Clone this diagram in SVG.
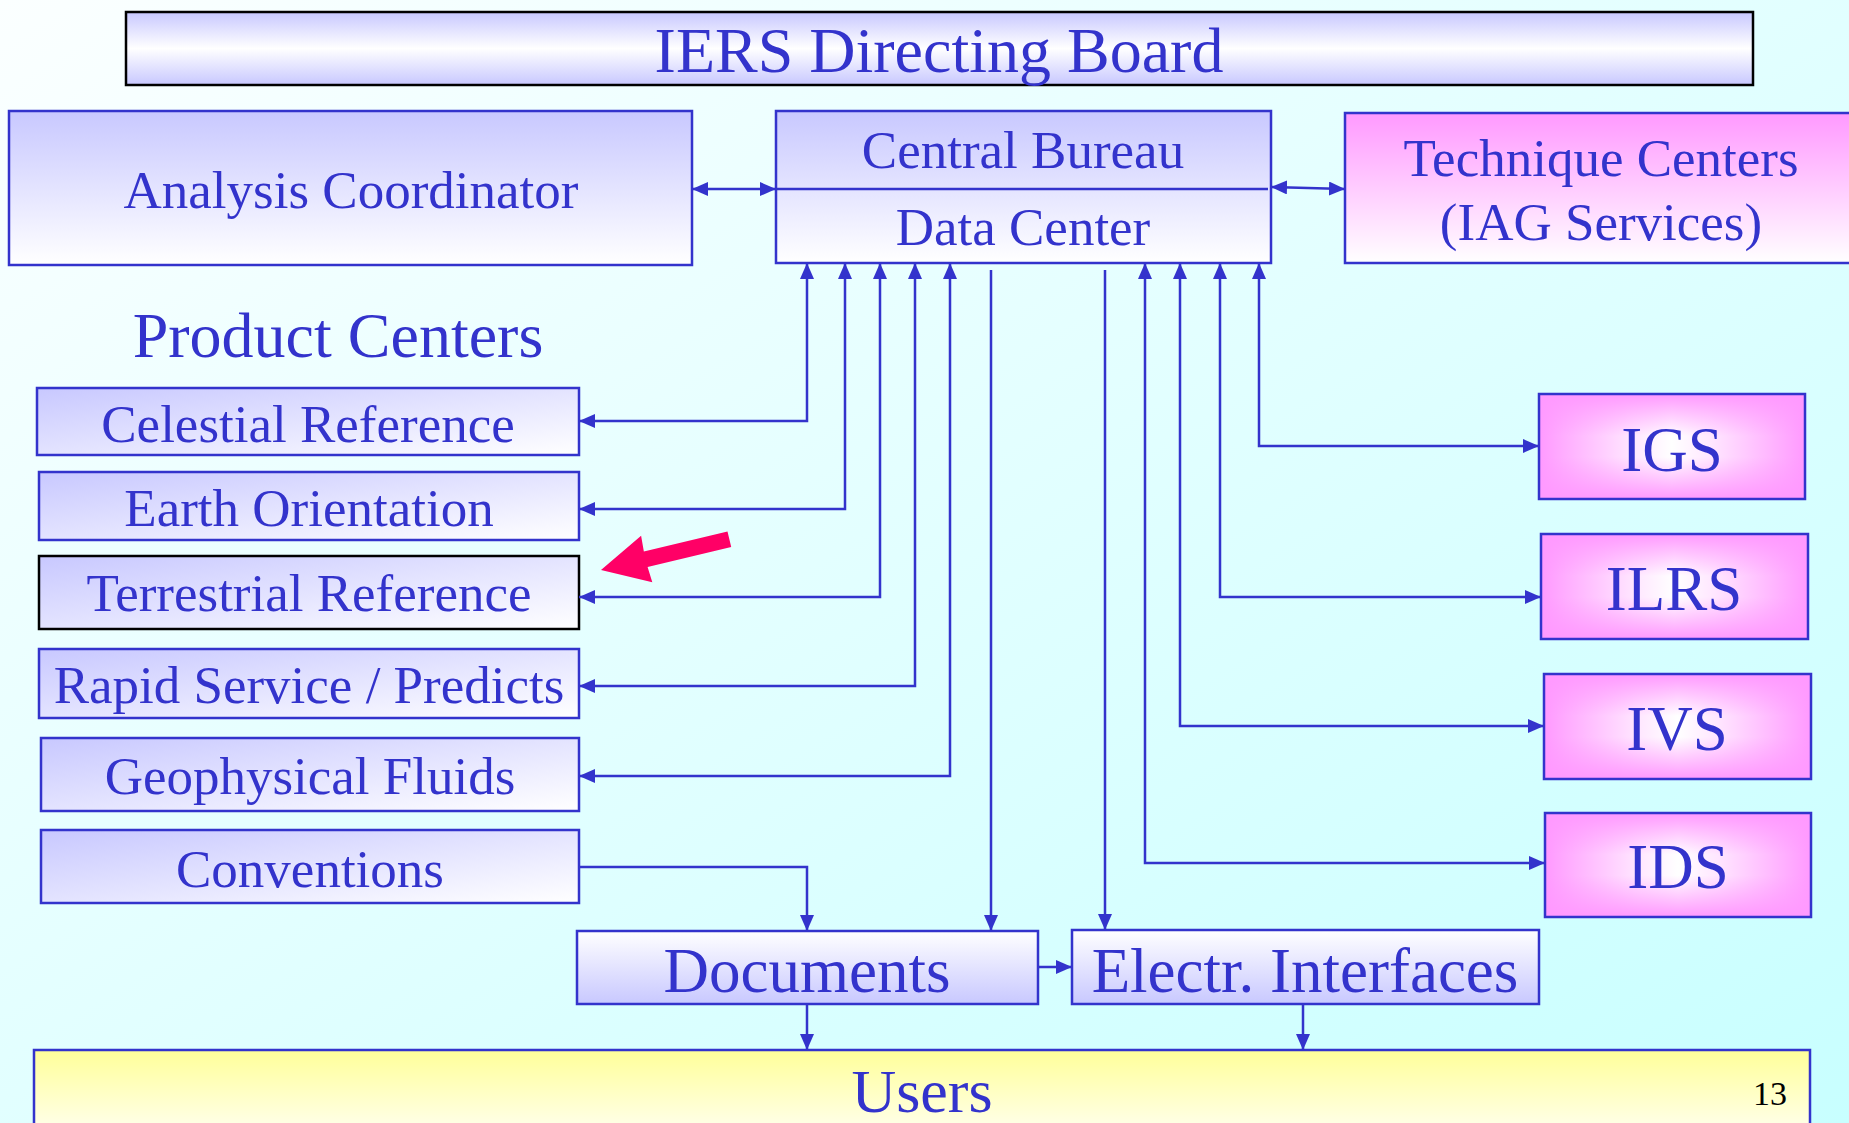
<svg xmlns="http://www.w3.org/2000/svg" width="1849" height="1123" viewBox="0 0 1849 1123">
<defs>
<linearGradient id="bg" x1="0" y1="0" x2="1" y2="1"><stop offset="0" stop-color="#fbffff"/><stop offset="1" stop-color="#c8ffff"/></linearGradient>
<linearGradient id="lavV" x1="0" y1="0" x2="0" y2="1"><stop offset="0" stop-color="#c8c8ff"/><stop offset="1" stop-color="#ffffff"/></linearGradient>
<linearGradient id="lavD" x1="0" y1="0" x2="1" y2="1"><stop offset="0" stop-color="#c8c8ff"/><stop offset="1" stop-color="#ffffff"/></linearGradient>
<linearGradient id="lavUp" x1="0" y1="0" x2="0" y2="1"><stop offset="0" stop-color="#ffffff"/><stop offset="1" stop-color="#c8c8ff"/></linearGradient>
<linearGradient id="lavMid" x1="0" y1="0" x2="0" y2="1"><stop offset="0" stop-color="#c8c8ff"/><stop offset="0.5" stop-color="#ffffff"/><stop offset="1" stop-color="#c8c8ff"/></linearGradient>
<linearGradient id="pinkV" x1="0" y1="0" x2="0" y2="1"><stop offset="0" stop-color="#ff99ff"/><stop offset="1" stop-color="#ffffff"/></linearGradient>
<linearGradient id="pinkH" x1="0" y1="0" x2="1" y2="0"><stop offset="0" stop-color="#ff99ff"/><stop offset="0.35" stop-color="#ffe6ff"/><stop offset="0.5" stop-color="#ffffff"/><stop offset="0.65" stop-color="#ffe6ff"/><stop offset="1" stop-color="#ff99ff"/></linearGradient>
<linearGradient id="pinkVm" x1="0" y1="0" x2="0" y2="1"><stop offset="0" stop-color="#ff99ff" stop-opacity="1"/><stop offset="0.4" stop-color="#ff99ff" stop-opacity="0"/><stop offset="0.6" stop-color="#ff99ff" stop-opacity="0"/><stop offset="1" stop-color="#ff99ff" stop-opacity="1"/></linearGradient>
<linearGradient id="yel" x1="0" y1="0" x2="0" y2="1"><stop offset="0" stop-color="#ffff99"/><stop offset="1" stop-color="#ffffff"/></linearGradient>
<marker id="ah" viewBox="0 0 16 14" refX="16" refY="7" markerWidth="16" markerHeight="14" markerUnits="userSpaceOnUse" orient="auto-start-reverse"><path d="M0,0 L16,7 L0,14 z" fill="#3333cc"/></marker>
</defs>
<style>
.box{stroke:#3333cc;stroke-width:2.5}
.blk{stroke:#000000;stroke-width:2.5}
.t{font-family:"Liberation Serif","Times New Roman",serif;fill:#3333cc;text-anchor:middle}
.m{font-size:53px}
.b{font-size:63px}
.c{fill:none;stroke:#3333cc;stroke-width:2.5}
.a2{marker-start:url(#ah);marker-end:url(#ah)}
.a1{marker-end:url(#ah)}
</style>
<rect x="0" y="0" width="1849" height="1123" fill="url(#bg)"/>

<g id="directing-board">
<rect x="126" y="12" width="1627" height="73" fill="url(#lavMid)" class="blk"/>
<text x="939" y="72" class="t" font-size="64">IERS Directing Board</text>
</g>
<g id="analysis-coordinator">
<rect x="9" y="111" width="683" height="154" fill="url(#lavV)" class="box"/>
<text x="351" y="208" class="t m">Analysis Coordinator</text>
</g>
<g id="central-bureau">
<rect x="776" y="111" width="495" height="152" fill="url(#lavV)" class="box"/>
<line x1="776" y1="189" x2="1268" y2="189" class="c"/>
<text x="1023" y="168" class="t m">Central Bureau</text>
<text x="1023" y="245" class="t m">Data Center</text>
</g>
<g id="technique-centers">
<rect x="1345" y="113" width="510" height="150" fill="url(#pinkV)" class="box"/>
<text x="1601" y="176" class="t m">Technique Centers</text>
<text x="1601" y="240" class="t m">(IAG Services)</text>
</g>
<g id="product-centers-label">
<text x="338" y="357" class="t" font-size="64">Product Centers</text>
</g>
<g id="celestial">
<rect x="37" y="388" width="542" height="67" fill="url(#lavD)" class="box"/>
<text x="308" y="442" class="t m">Celestial Reference</text>
</g>
<g id="earth-orientation">
<rect x="39" y="472" width="540" height="68" fill="url(#lavD)" class="box"/>
<text x="309" y="526" class="t m">Earth Orientation</text>
</g>
<g id="terrestrial">
<rect x="39" y="556" width="540" height="73" fill="url(#lavD)" class="blk"/>
<text x="309" y="611" class="t m">Terrestrial Reference</text>
</g>
<g id="rapid-service">
<rect x="39" y="649" width="540" height="69" fill="url(#lavD)" class="box"/>
<text x="309" y="703" class="t m">Rapid Service / Predicts</text>
</g>
<g id="geophysical">
<rect x="41" y="738" width="538" height="73" fill="url(#lavD)" class="box"/>
<text x="310" y="794" class="t m">Geophysical Fluids</text>
</g>
<g id="conventions">
<rect x="41" y="830" width="538" height="73" fill="url(#lavD)" class="box"/>
<text x="310" y="887" class="t m">Conventions</text>
</g>
<g id="igs">
<rect x="1539" y="394" width="266" height="105" fill="url(#pinkH)"/>
<rect x="1539" y="394" width="266" height="105" fill="url(#pinkVm)" class="box"/>
<text x="1672" y="471" class="t b" font-size="62">IGS</text>
</g>
<g id="ilrs">
<rect x="1541" y="534" width="267" height="105" fill="url(#pinkH)"/>
<rect x="1541" y="534" width="267" height="105" fill="url(#pinkVm)" class="box"/>
<text x="1674" y="610" class="t b">ILRS</text>
</g>
<g id="ivs">
<rect x="1544" y="674" width="267" height="105" fill="url(#pinkH)"/>
<rect x="1544" y="674" width="267" height="105" fill="url(#pinkVm)" class="box"/>
<text x="1677" y="750" class="t b">IVS</text>
</g>
<g id="ids">
<rect x="1545" y="813" width="266" height="104" fill="url(#pinkH)"/>
<rect x="1545" y="813" width="266" height="104" fill="url(#pinkVm)" class="box"/>
<text x="1678" y="888" class="t b">IDS</text>
</g>
<g id="documents">
<rect x="577" y="931" width="461" height="73" fill="url(#lavUp)" class="box"/>
<text x="807" y="992" class="t b">Documents</text>
</g>
<g id="electr-interfaces">
<rect x="1072" y="930" width="467" height="74" fill="url(#lavUp)" class="box"/>
<text x="1305" y="992" class="t b">Electr. Interfaces</text>
</g>
<g id="users">
<rect x="34" y="1050" width="1776" height="100" fill="url(#yel)" class="box"/>
<text x="922" y="1112" class="t" font-size="62">Users</text>
</g>
<text x="1770" y="1105" font-family="Liberation Serif, serif" font-size="34" fill="#000000" text-anchor="middle">13</text>

<g id="red-arrow">
<polygon points="0,0 47,-24 46,-8 132,-8 132,8 46,8 47,24" fill="#ff0066" transform="translate(601,570) rotate(-13.5)"/>
</g>

<g id="connectors">
<path d="M692,189 H776" class="c a2"/>
<path d="M1271,187 L1345,189" class="c a2"/>
<path d="M579,421 H807 V263" class="c a2"/>
<path d="M579,509 H845 V263" class="c a2"/>
<path d="M579,597 H880 V263" class="c a2"/>
<path d="M579,686 H915 V263" class="c a2"/>
<path d="M579,776 H950 V263" class="c a2"/>
<path d="M991,270 V931" class="c a1"/>
<path d="M1105,270 V930" class="c a1"/>
<path d="M1539,446 H1259 V263" class="c a2"/>
<path d="M1541,597 H1220 V263" class="c a2"/>
<path d="M1544,726 H1180 V263" class="c a2"/>
<path d="M1545,863 H1145 V263" class="c a2"/>
<path d="M579,867 H807 V931" class="c a1"/>
<path d="M1038,967 H1072" class="c a1"/>
<path d="M807,1004 V1050" class="c a1"/>
<path d="M1303,1004 V1050" class="c a1"/>
</g>
</svg>
